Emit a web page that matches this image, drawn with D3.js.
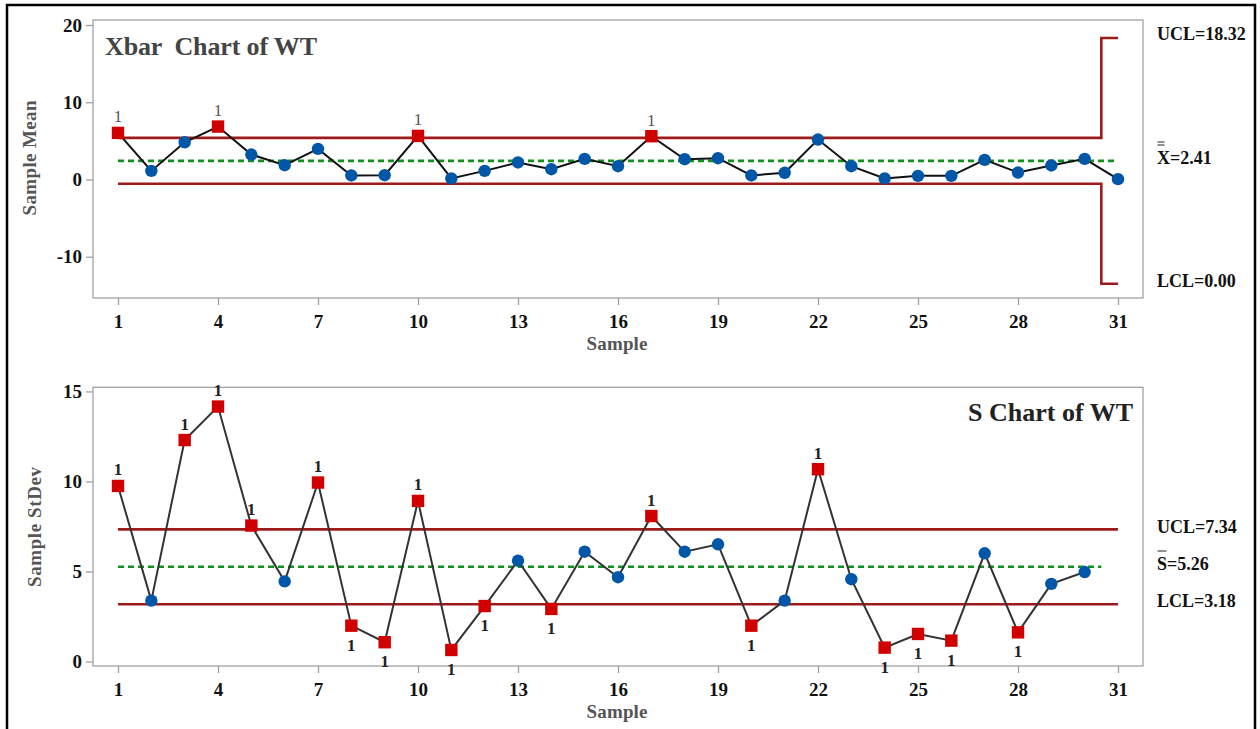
<!DOCTYPE html>
<html lang="en">
<head>
<meta charset="UTF-8">
<script src="https://cdn.jsdelivr.net/npm/d3@7"></script>
<style>
  body { margin: 0; background: #fff; }
  svg text { font-family: "Liberation Serif", "DejaVu Serif", serif; }
</style>
<title>Xbar-S Chart of WT</title>
</head>
<body>
<script>
// ---- data ----
const xbarSamples = d3.range(1, 32);
const xbarValues = [6.03, 1.11, 4.82, 6.85, 3.23, 1.85, 3.96, 0.52, 0.55, 5.64,
                    0.13, 1.11, 2.20, 1.33, 2.67, 1.72, 5.60, 2.62, 2.75, 0.52,
                    0.86, 5.17, 1.72, 0.13, 0.47, 0.47, 2.54, 0.90, 1.81, 2.67, 0.04];
const xbarFlagged = [1, 4, 10, 17];
const xbarCenter = 2.41;
// limits change for the last subgroup (smaller n)
const xbarUCL = [5.38, 18.32];
const xbarLCL = [-0.56, -13.50];
const xbarTicksY = [-10, 0, 10, 20];

const sSamples = d3.range(1, 31);
const sValues = [9.75, 3.38, 12.30, 14.16, 7.55, 4.45, 9.94, 1.99, 1.07, 8.92,
                 0.64, 3.08, 5.60, 2.92, 6.10, 4.68, 8.08, 6.10, 6.51, 1.99,
                 3.38, 10.68, 4.57, 0.77, 1.53, 1.16, 6.01, 1.62, 4.31, 4.97];
const sFlaggedHigh = [1, 3, 4, 5, 7, 10, 17, 22];
const sFlaggedLow = [8, 9, 11, 12, 14, 20, 24, 25, 26, 28];
const sCenter = 5.26, sUCL = 7.34, sLCL = 3.18;
const sTicksY = [0, 5, 10, 15];

const xTicks = [1, 4, 7, 10, 13, 16, 19, 22, 25, 28, 31];

const W = 1260, H = 729;
const red = "#d10000", blue = "#0057a8", limitColor = "#9e1b1b", centerColor = "#12901e";

const svg = d3.select("body").append("svg")
    .attr("width", W).attr("height", H);

// outer frame
svg.append("rect")
    .attr("x", 7).attr("y", 5).attr("width", 1248).attr("height", 760)
    .attr("fill", "none").attr("stroke", "#000").attr("stroke-width", 2.5);

const x = d3.scaleLinear().domain([0.25, 31.75]).range([93, 1143]);

function panel(cfg) {
    const g = svg.append("g");
    const y = cfg.y;

    g.append("rect")
        .attr("x", x.range()[0]).attr("y", y.range()[1])
        .attr("width", x.range()[1] - x.range()[0])
        .attr("height", y.range()[0] - y.range()[1])
        .attr("fill", "none").attr("stroke", "#9a9a9a").attr("stroke-width", 1.2);

    const xAxis = g.append("g")
        .attr("transform", `translate(0,${y.range()[0]})`)
        .call(d3.axisBottom(x).tickValues(xTicks).tickSize(7).tickPadding(6));
    const yAxis = g.append("g")
        .attr("transform", `translate(${x.range()[0]},0)`)
        .call(d3.axisLeft(y).tickValues(cfg.ticks).tickFormat(d => String(d))
            .tickSize(7).tickPadding(4));
    [xAxis, yAxis].forEach(a => {
        a.select(".domain").remove();
        a.selectAll(".tick line").attr("stroke", "#9a9a9a").attr("stroke-width", 1.2);
        a.selectAll(".tick text")
            .attr("font-family", "Liberation Serif").attr("font-size", 19)
            .attr("font-weight", "bold").attr("fill", "#111");
    });
    xAxis.selectAll(".tick text").attr("dy", "0.9em");

    // axis titles
    g.append("text")
        .attr("x", 617).attr("y", y.range()[0] + 52)
        .attr("text-anchor", "middle").attr("font-size", 19).attr("font-weight", "bold")
        .attr("fill", "#555").attr("textLength", 61).text("Sample");
    g.append("text")
        .attr("transform", `translate(${cfg.yLabelX},${cfg.yLabelY}) rotate(-90)`)
        .attr("text-anchor", "middle").attr("font-size", 19).attr("font-weight", "bold")
        .attr("fill", "#555").attr("textLength", cfg.yLabelLen).text(cfg.yLabel);

    // limit lines (step)
    const stepLine = d3.line().x(d => x(d[0])).y(d => y(d[1])).curve(d3.curveStep);
    cfg.limits.forEach(pts => {
        g.append("path").attr("d", stepLine(pts))
            .attr("fill", "none").attr("stroke", limitColor).attr("stroke-width", 2.6);
    });
    g.append("line")
        .attr("x1", x(1)).attr("x2", x(cfg.centerEnd))
        .attr("y1", y(cfg.center)).attr("y2", y(cfg.center))
        .attr("stroke", centerColor).attr("stroke-width", 2.6)
        .attr("stroke-dasharray", "6,4");

    // data line
    const pts = cfg.samples.map((s, i) => [s, cfg.values[i]]);
    g.append("path")
        .attr("d", d3.line().x(d => x(d[0])).y(d => y(d[1]))(pts))
        .attr("fill", "none").attr("stroke", cfg.lineColor).attr("stroke-width", 2);

    const flagged = cfg.flagHigh.concat(cfg.flagLow);
    g.selectAll("circle.pt").data(pts.filter(d => !flagged.includes(d[0])))
        .join("circle").attr("class", "pt")
        .attr("cx", d => x(d[0])).attr("cy", d => y(d[1])).attr("r", 6.2)
        .attr("fill", blue);
    g.selectAll("rect.pt").data(pts.filter(d => flagged.includes(d[0])))
        .join("rect").attr("class", "pt")
        .attr("x", d => x(d[0]) - 6.2).attr("y", d => y(d[1]) - 6.2)
        .attr("width", 12.4).attr("height", 12.4)
        .attr("fill", red);

    g.selectAll("text.flag").data(pts.filter(d => flagged.includes(d[0])))
        .join("text").attr("class", "flag")
        .attr("x", d => x(d[0]))
        .attr("y", d => cfg.flagHigh.includes(d[0]) ? y(d[1]) - 10.5 : y(d[1]) + 25)
        .attr("text-anchor", "middle").attr("font-size", 17)
        .attr("font-weight", cfg.flagWeight).attr("fill", cfg.flagColor)
        .text("1");

    return g;
}

// ---- Xbar chart ----
const yTop = d3.scaleLinear().domain([-15.35, 20.65]).range([298, 20]);
const gTop = panel({
    y: yTop, ticks: xbarTicksY, yLabel: "Sample Mean",
    yLabelX: 36, yLabelY: 158, yLabelLen: 115,
    samples: xbarSamples, values: xbarValues,
    flagHigh: xbarFlagged, flagLow: [],
    center: xbarCenter, centerEnd: 31,
    limits: [
        [[1, xbarUCL[0]], [30, xbarUCL[0]], [31, xbarUCL[1]]],
        [[1, xbarLCL[0]], [30, xbarLCL[0]], [31, xbarLCL[1]]]
    ],
    lineColor: "#111", flagColor: "#555", flagWeight: "normal"
});
gTop.append("text").attr("x", 105).attr("y", 55)
    .attr("font-size", 26).attr("font-weight", "bold").attr("fill", "#444")
    .attr("xml:space", "preserve").attr("textLength", 212).text("Xbar  Chart of WT");

// ---- S chart ----
const yBot = d3.scaleLinear().domain([-0.25, 15.23]).range([666, 387.3]);
const gBot = panel({
    y: yBot, ticks: sTicksY, yLabel: "Sample StDev",
    yLabelX: 41, yLabelY: 527, yLabelLen: 120,
    samples: sSamples, values: sValues,
    flagHigh: sFlaggedHigh, flagLow: sFlaggedLow,
    center: sCenter, centerEnd: 30.5,
    limits: [
        [[1, sUCL], [30, sUCL], [31, sUCL]],
        [[1, sLCL], [30, sLCL], [31, sLCL]]
    ],
    lineColor: "#333", flagColor: "#222", flagWeight: "bold"
});
gBot.append("text").attr("x", 1133).attr("y", 421)
    .attr("text-anchor", "end")
    .attr("font-size", 26).attr("font-weight", "bold").attr("fill", "#222")
    .text("S Chart of WT");

// ---- right-hand limit labels ----
function limitLabel(sym, bars, value, yPos, barW) {
    svg.append("text").attr("x", 1157).attr("y", yPos + 6)
        .attr("font-size", 18).attr("font-weight", "bold").attr("fill", "#111")
        .text(sym + "=" + value);
    for (let i = 0; i < bars; i++) {
        svg.append("line")
            .attr("x1", 1157.5).attr("x2", 1157.5 + barW)
            .attr("y1", yPos - 13 - i * 3).attr("y2", yPos - 13 - i * 3)
            .attr("stroke", "#222").attr("stroke-width", 1);
    }
}
limitLabel("UCL", 0, "18.32", 34);
limitLabel("X", 2, "2.41", 158, 7);
limitLabel("LCL", 0, "0.00", 281);
limitLabel("UCL", 0, "7.34", 527);
limitLabel("S", 1, "5.26", 564, 9);
limitLabel("LCL", 0, "3.18", 601);
</script>
</body>
</html>
